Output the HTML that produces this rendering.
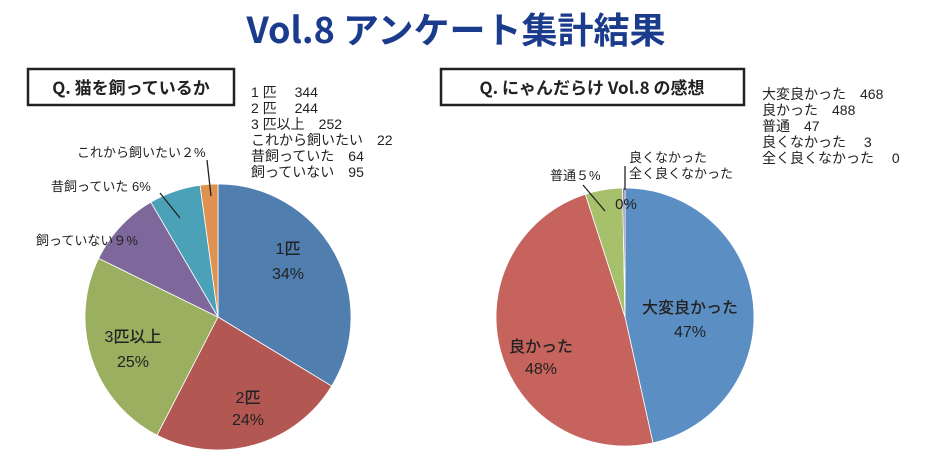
<!DOCTYPE html>
<html><head><meta charset="utf-8">
<style>
html,body{margin:0;padding:0;background:#fff;}
svg{display:block;}
text{font-family:"Liberation Sans","Noto Sans CJK JP",sans-serif;}
</style></head>
<body>
<svg id="s" width="940" height="470" viewBox="0 0 940 470" xmlns="http://www.w3.org/2000/svg">
<rect width="940" height="470" fill="#fff"/>
<text x="456" y="43" text-anchor="middle" font-size="36" font-weight="bold" fill="#1b3b8c" style="font-family:'Noto Sans CJK JP',sans-serif">Vol.8 アンケート集計結果</text>
<rect x="28" y="69" width="206" height="36" fill="#fff" stroke="#222" stroke-width="2.5"/>
<text x="131" y="94" text-anchor="middle" font-size="17" font-weight="bold" fill="#222" style="font-family:'Noto Sans CJK JP',sans-serif">Q. 猫を飼っているか</text>
<rect x="441" y="69" width="303" height="36" fill="#fff" stroke="#222" stroke-width="2.5"/>
<text x="592" y="94" text-anchor="middle" font-size="17" font-weight="bold" fill="#222" style="font-family:'Noto Sans CJK JP',sans-serif">Q. にゃんだらけ Vol.8 の感想</text>
<g id="pies"></g>
<g font-size="14" fill="#222" xml:space="preserve">
<text x="251" y="97">1 匹　 344</text>
<text x="251" y="113">2 匹　 244</text>
<text x="251" y="129">3 匹以上　252</text>
<text x="251" y="145">これから飼いたい　22</text>
<text x="251" y="161">昔飼っていた　64</text>
<text x="251" y="177">飼っていない　95</text>
<text x="762" y="99">大変良かった　468</text>
<text x="762" y="115">良かった　488</text>
<text x="762" y="131">普通　47</text>
<text x="762" y="147">良くなかった　 3</text>
<text x="762" y="163">全く良くなかった　 0</text>
</g>
<g font-size="13" fill="#222">
<text x="77" y="157">これから飼いたい２%</text>
<text x="51" y="191">昔飼っていた 6%</text>
<text x="36" y="245">飼っていない９%</text>
<text x="550" y="180">普通５%</text>
<text x="629" y="162">良くなかった</text>
<text x="629" y="178">全く良くなかった</text>
</g>
<g stroke="#222" stroke-width="1.3">
<line x1="207" y1="160" x2="211" y2="196"/>
<line x1="160" y1="193" x2="180" y2="218"/>
<line x1="583" y1="185" x2="605" y2="211"/>
<line x1="625" y1="166" x2="625" y2="190"/>
</g>
<g font-size="16" fill="#222" text-anchor="middle" font-weight="500">
<text x="288" y="254">1匹</text><text x="288" y="279">34%</text>
<text x="248" y="403">2匹</text><text x="248" y="425">24%</text>
<text x="133" y="342">3匹以上</text><text x="133" y="367">25%</text>
<text x="690" y="313">大変良かった</text><text x="690" y="337">47%</text>
<text x="541" y="352">良かった</text><text x="541" y="374">48%</text>
<text x="626" y="209" font-size="15">0%</text>
</g>
</svg>
<script>
function pie(cx,cy,r,vals,cols){
  var tot=vals.reduce(function(a,b){return a+b},0),a=0,out='';
  for(var i=0;i<vals.length;i++){
    if(!vals[i])continue;
    var a1=a+vals[i]/tot*2*Math.PI;
    var x0=cx+r*Math.sin(a),y0=cy-r*Math.cos(a),x1=cx+r*Math.sin(a1),y1=cy-r*Math.cos(a1);
    out+='<path d="M'+cx+' '+cy+' L'+x0+' '+y0+' A'+r+' '+r+' 0 '+((a1-a)>Math.PI?1:0)+' 1 '+x1+' '+y1+' Z" fill="'+cols[i]+'" stroke="#fff" stroke-width="0.8"/>';
    a=a1;
  }
  return out;
}
document.getElementById('pies').innerHTML=
 pie(218,317,133,[344,244,252,95,64,22],['#4f7eaf','#b35753','#9aaf5f','#7e679a','#4ba2b8','#df914f'])+
 pie(625,317,129,[468,488,47,3],['#5b8ec3','#c6635c','#a6c06c','#8a76a8']);
</script>
</body></html>
